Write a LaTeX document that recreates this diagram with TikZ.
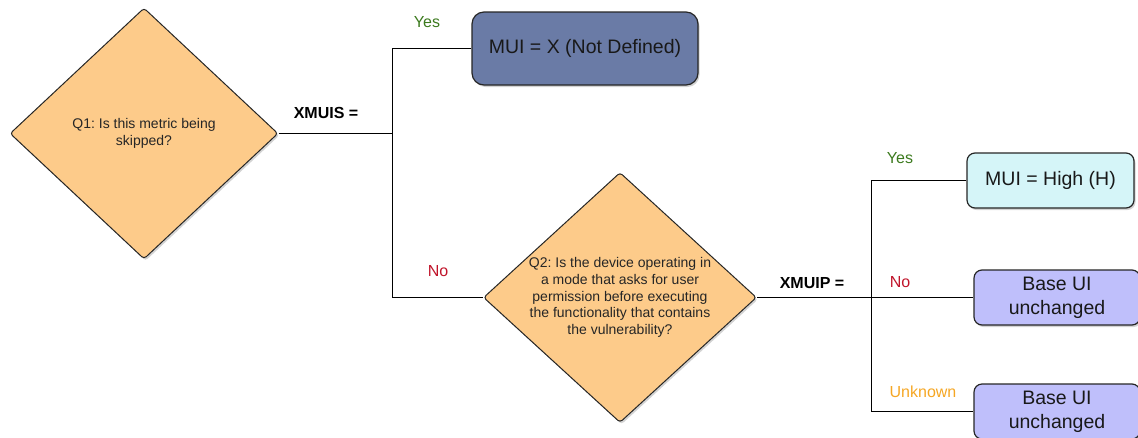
\documentclass[tikz,border=0pt]{standalone}
\usepackage{fontspec}
\setmainfont{Liberation Sans}
\frenchspacing
\usetikzlibrary{shapes.geometric,shadows}
\definecolor{qfill}{HTML}{FDCB8A}
\definecolor{xfill}{HTML}{6A7BA6}
\definecolor{hfill}{HTML}{D5F5F8}
\definecolor{bfill}{HTML}{BFBFFB}
\definecolor{yescol}{HTML}{3C7A1E}
\definecolor{nocol}{HTML}{C0142A}
\definecolor{unkcol}{HTML}{F5A623}
\begin{document}
\begin{tikzpicture}[x=1pt,y=-1pt,
quest/.style={diamond,draw=black!85,fill=qfill,line width=1pt,rounded corners=3pt,inner sep=0pt,align=center,text=black!85,font=\fontsize{14}{16.7}\selectfont,drop shadow={shadow xshift=1.5pt,shadow yshift=-2pt,opacity=0.35}},
leaf/.style={draw=black!85,line width=1.2pt,rounded corners=8pt,align=center,text=black!90,font=\fontsize{19.5}{24}\selectfont,drop shadow={shadow xshift=1.5pt,shadow yshift=-2pt,opacity=0.35}},
cond/.style={font=\bfseries\fontsize{16}{19}\selectfont},
ans/.style={font=\fontsize{16}{19}\selectfont}]
\useasboundingbox(0,0)rectangle(1138,437);
\pgfmathsetmacro{\ja}{392.5}
\pgfmathsetmacro{\jb}{871.5}
\node[quest,aspect=1.07,minimum width=268pt,minimum height=251pt](q1)at(144,133.5){Q1: Is this metric being\\skipped?};
\node[quest,aspect=1.09,minimum width=273pt,minimum height=250pt](q2)at(620,297.5){Q2: Is the device operating in\\a mode that asks for user\\permission before executing\\the functionality that contains\\the vulnerability?};
\node[leaf,fill=xfill,rounded corners=12pt,minimum width=226pt,minimum height=73pt](mx)at(585,48.5){MUI = X (Not Defined)};
\node[leaf,fill=hfill,minimum width=167pt,minimum height=55pt](mh)at(1050.5,180.5){MUI = High (H)};
\node[leaf,fill=bfill,minimum width=166pt,minimum height=55pt](bu1)at(1057,297.5){Base UI\\unchanged};
\node[leaf,fill=bfill,minimum width=166pt,minimum height=55pt](bu2)at(1057,411.5){Base UI\\unchanged};
\coordinate(ja)at(\ja,133.5);
\coordinate(jb)at(\jb,297.5);
\draw[line width=1pt](q1.east)--(ja);
\draw[line width=1pt](mx.west)-|(ja)|-(q2.west);
\draw[line width=1pt](q2.east)--(jb)--(bu1.west);
\draw[line width=1pt](mh.west)-|(jb)|-(bu2.west);
\node[cond](xmuis)at(326,113){XMUIS =};
\node[cond](xmuip)at(812,283){XMUIP =};
\node[ans,text=yescol](y1)at(427,22){Yes};
\node[ans,text=nocol](n1)at(438,271){No};
\node[ans,text=yescol](y2)at(900,158){Yes};
\node[ans,text=nocol](n2)at(900,282){No};
\node[ans,text=unkcol](u2)at(923,392){Unknown};
\end{tikzpicture}
\end{document}
